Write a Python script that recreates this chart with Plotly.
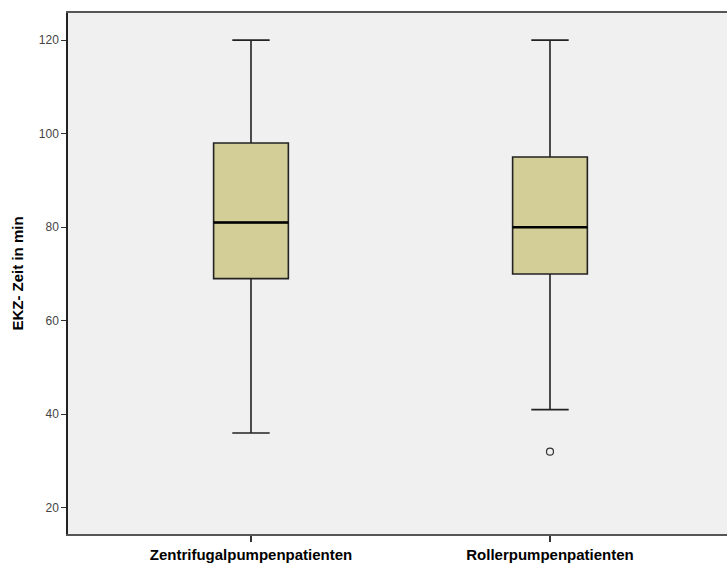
import plotly.graph_objects as go

categories = ["Zentrifugalpumpenpatienten", "Rollerpumpenpatienten"]
lower_whisker = [36, 41]
q1 = [69, 70]
median = [81, 80]
q3 = [98, 95]
upper_whisker = [120, 120]
outlier_cat = ["Rollerpumpenpatienten"]
outlier_val = [32]
y_ticks = [20, 40, 60, 80, 100, 120]

fig = go.Figure()
fig.add_trace(go.Box(
    x=categories, q1=q1, median=median, q3=q3,
    lowerfence=lower_whisker, upperfence=upper_whisker,
    fillcolor="#D3CE97", line=dict(color="#222222", width=1.6),
    width=0.25, whiskerwidth=0.5, boxpoints=False, showlegend=False,
))
# thick median line overlay
fig.add_trace(go.Box(
    x=categories, q1=median, median=median, q3=median,
    lowerfence=median, upperfence=median,
    fillcolor="rgba(0,0,0,0)", line=dict(color="#000000", width=2.6),
    width=0.25, whiskerwidth=0, boxpoints=False, showlegend=False,
    hoverinfo="skip",
))
fig.add_trace(go.Scatter(
    x=outlier_cat, y=outlier_val, mode="markers",
    marker=dict(symbol="circle-open", size=7, color="#333333", line=dict(width=1.2)),
    showlegend=False,
))

fig.update_layout(
    template="none",
    width=727, height=565,
    margin=dict(l=68, r=0, t=13, b=31),
    paper_bgcolor="white", plot_bgcolor="#F0F0F0",
    boxmode="overlay",
    font=dict(family="Liberation Sans, Arial, sans-serif", color="#222222"),
)
fig.update_xaxes(
    type="category", range=[-0.612, 1.592],
    showline=True, linecolor="#555555", linewidth=1.5, mirror=True,
    ticks="outside", ticklen=6, tickcolor="#333333", tickwidth=1.5,
    tickfont=dict(size=15, color="#000000", family="Liberation Sans, Arial, sans-serif"),
    tickprefix="<b>", ticksuffix="</b>",
    showgrid=False, zeroline=False,
)
fig.update_yaxes(
    range=[14.4, 125.8], tickvals=y_ticks,
    showline=True, linecolor="#222222", linewidth=1.5,
    ticks="outside", ticklen=5, tickcolor="#333333", tickwidth=1,
    tickfont=dict(size=12, color="#444444"),
    title=dict(text="<b>EKZ- Zeit in min</b>", font=dict(size=15, color="#000000"), standoff=12),
    showgrid=False, zeroline=False,
)

fig.write_html("out.html", config={"displayModeBar": False},
               post_script="document.body.style.margin='0';document.body.style.overflow='hidden';")
